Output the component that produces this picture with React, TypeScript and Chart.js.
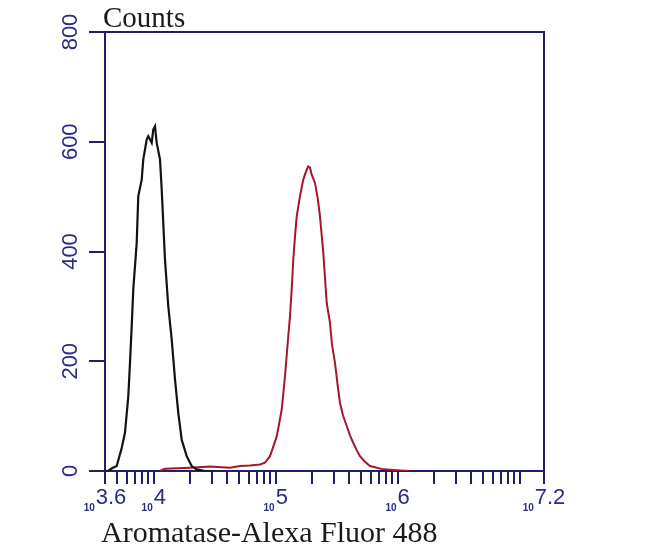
import React, { useEffect, useRef } from "react";
import { Chart, registerables } from "chart.js";

Chart.register(...registerables);

// Histogram traces, x in log10(fluorescence) units, y in counts
const controlLogX = [3.6, 3.627, 3.657, 3.696, 3.737, 3.764, 3.791, 3.805, 3.819, 3.832, 3.86, 3.873, 3.901, 3.914, 3.942, 3.955, 3.983, 3.996, 4.01, 4.024, 4.051, 4.065, 4.092, 4.119, 4.147, 4.174, 4.201, 4.229, 4.27, 4.311, 4.352, 4.42, 4.5];
const controlCounts = [0, 0, 5, 9, 42, 70, 136, 197, 264, 331, 416, 501, 531, 568, 604, 610, 598, 622, 628, 598, 568, 513, 385, 300, 240, 167, 106, 57, 27, 9, 3, 0, 0];

const aromataseLogX = [4.05, 4.092, 4.297, 4.461, 4.625, 4.707, 4.789, 4.871, 4.912, 4.953, 4.978, 5.008, 5.027, 5.049, 5.076, 5.103, 5.117, 5.131, 5.144, 5.158, 5.172, 5.199, 5.226, 5.254, 5.267, 5.281, 5.295, 5.322, 5.346, 5.363, 5.39, 5.418, 5.445, 5.461, 5.486, 5.507, 5.527, 5.552, 5.582, 5.609, 5.636, 5.662, 5.691, 5.732, 5.773, 5.882, 6.019, 6.1];
const aromataseCounts = [0, 4, 6, 8, 6, 9, 10, 12, 15, 27, 43, 63, 85, 112, 173, 246, 282, 331, 385, 427, 464, 501, 531, 549, 555, 553, 540, 525, 495, 464, 398, 307, 270, 231, 197, 158, 124, 101, 82, 65, 51, 39, 27, 17, 9, 3, 1, 0];

// Axis definitions
const xMinExp = 3.6;
const xMaxExp = 7.2;
const xLabelExps = [3.6, 4, 5, 6, 7.2];
const xLabelTexts = ["3.6", "4", "5", "6", "7.2"];
const yTickValues = [0, 200, 400, 600, 800];
const yTickTexts = ["0", "200", "400", "600", "800"];
const yTitle = "Counts";
const xTitle = "Aromatase-Alexa Fluor 488";

const AXIS = "#1f1f6e";
const LABEL = "#2a2a88";

function buildXTicks() {
  const vals: number[] = [xMinExp];
  for (let d = 3; d <= 7; d++) {
    for (let k = 1; k <= 9; k++) {
      const v = d + Math.log10(k);
      if (v > xMinExp + 1e-6 && v < xMaxExp - 1e-6) vals.push(v);
    }
  }
  vals.push(xMaxExp);
  return vals.map((value) => ({ value }));
}

const labelPlugin = {
  id: "flowLabels",
  afterDraw(chart: any) {
    const { ctx, chartArea, scales } = chart;
    const xs = scales.x;
    const ys = scales.y;
    ctx.save();
    // frame top/right
    ctx.strokeStyle = AXIS;
    ctx.lineWidth = 2;
    ctx.beginPath();
    ctx.moveTo(chartArea.left, chartArea.top);
    ctx.lineTo(chartArea.right, chartArea.top);
    ctx.lineTo(chartArea.right, chartArea.bottom);
    ctx.stroke();

    // y labels, rotated
    ctx.fillStyle = LABEL;
    ctx.font = "22px 'Liberation Sans', Arial, sans-serif";
    ctx.textAlign = "center";
    ctx.textBaseline = "middle";
    yTickValues.forEach((v, i) => {
      const py = ys.getPixelForValue(v);
      ctx.save();
      ctx.translate(71, py);
      ctx.rotate(-Math.PI / 2);
      ctx.fillText(yTickTexts[i], 0, 0);
      ctx.restore();
    });

    // x labels: small "10" + exponent
    ctx.textAlign = "left";
    ctx.textBaseline = "alphabetic";
    const smallFont = "bold 10px 'Liberation Sans', Arial, sans-serif";
    const bigFont = "22px 'Liberation Sans', Arial, sans-serif";
    xLabelExps.forEach((e, i) => {
      const px = xs.getPixelForValue(e);
      ctx.font = smallFont;
      const w10 = ctx.measureText("10").width;
      ctx.font = bigFont;
      const wE = ctx.measureText(xLabelTexts[i]).width;
      const start = px - (w10 + wE + 1) / 2;
      ctx.font = smallFont;
      ctx.fillText("10", start, 511);
      ctx.font = bigFont;
      ctx.fillText(xLabelTexts[i], start + w10 + 1, 504);
    });

    // titles
    ctx.fillStyle = "#1a1a1a";
    ctx.font = "29px 'Liberation Serif', 'Times New Roman', serif";
    ctx.fillText(yTitle, 103, 27);
    ctx.font = "30px 'Liberation Serif', 'Times New Roman', serif";
    ctx.fillText(xTitle, 101, 542);
    ctx.restore();
  },
};

export default function App() {
  const ref = useRef<HTMLCanvasElement>(null);
  useEffect(() => {
    document.body.style.margin = "0";
    const canvas = ref.current!;
    const chart = new Chart(canvas, {
      type: "line",
      data: {
        datasets: [
          {
            label: "Control",
            data: controlLogX.map((x, i) => ({ x, y: controlCounts[i] })),
            borderColor: "#121212",
            borderWidth: 2.2,
            pointRadius: 0,
            tension: 0,
            fill: false,
          },
          {
            label: "Aromatase",
            data: aromataseLogX.map((x, i) => ({ x, y: aromataseCounts[i] })),
            borderColor: "#a3162e",
            borderWidth: 2,
            pointRadius: 0,
            tension: 0,
            fill: false,
          },
        ],
      },
      options: {
        animation: false,
        responsive: false,
        layout: { padding: { top: 32, right: 106, left: 0, bottom: 0 } },
        plugins: { legend: { display: false }, tooltip: { enabled: false } },
        scales: {
          x: {
            type: "linear",
            min: xMinExp,
            max: xMaxExp,
            afterBuildTicks: (scale: any) => {
              scale.ticks = buildXTicks();
            },
            afterFit: (scale: any) => {
              scale.height = 78;
            },
            ticks: { display: false },
            grid: {
              display: true,
              drawOnChartArea: false,
              drawTicks: true,
              tickLength: 13,
              color: AXIS,
              lineWidth: 2,
            },
            border: { display: true, color: AXIS, width: 2 },
          },
          y: {
            type: "linear",
            min: 0,
            max: 800,
            afterBuildTicks: (scale: any) => {
              scale.ticks = yTickValues.map((value) => ({ value }));
            },
            afterFit: (scale: any) => {
              scale.width = 105;
            },
            ticks: { display: false },
            grid: {
              display: true,
              drawOnChartArea: false,
              drawTicks: true,
              tickLength: 16,
              color: AXIS,
              lineWidth: 2,
            },
            border: { display: true, color: AXIS, width: 2 },
          },
        },
      },
      plugins: [labelPlugin],
    });
    return () => chart.destroy();
  }, []);
  return (
    <div style={{ width: 650, height: 549, background: "#fff" }}>
      <canvas ref={ref} width={650} height={549} style={{ display: "block" }} />
    </div>
  );
}
